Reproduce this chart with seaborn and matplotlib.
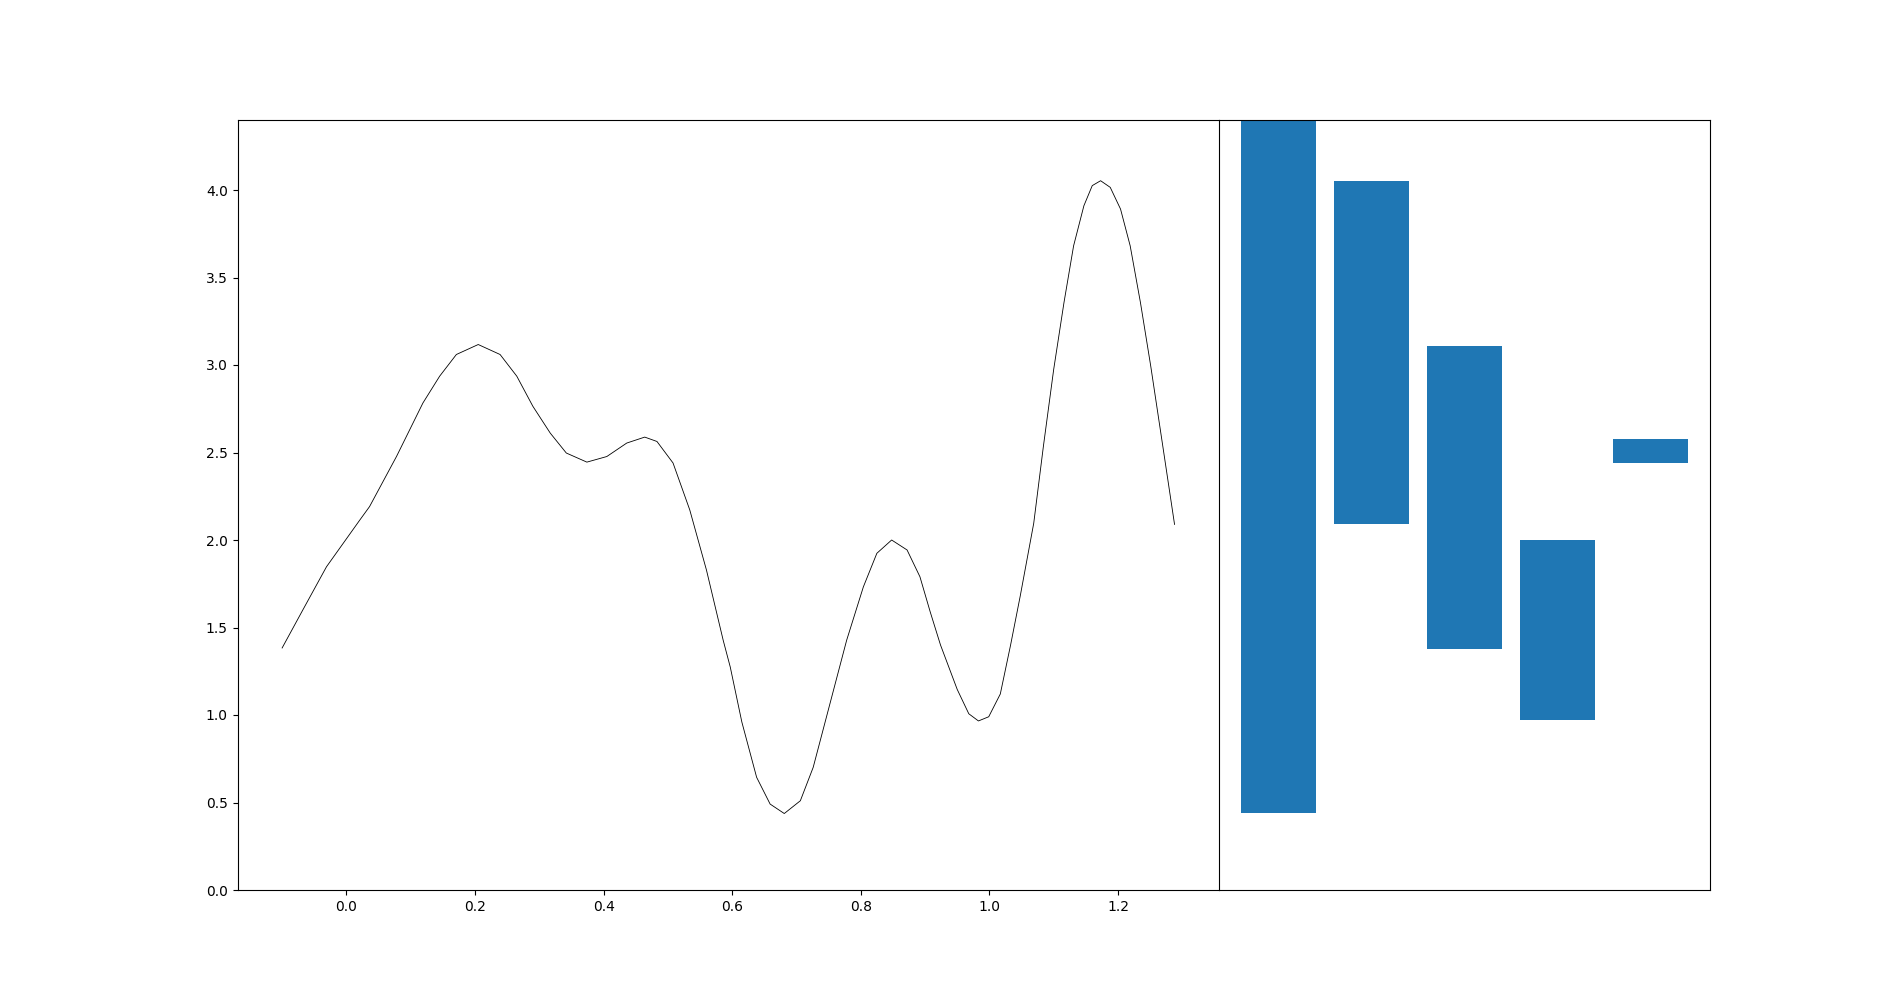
import numpy as np
import pandas as pd
import matplotlib
matplotlib.use("Agg")
import matplotlib.pyplot as plt
import seaborn as sns

# --- curve values ---
curve_x = [-0.100, -0.068, -0.031, 0.021, 0.036, 0.078, 0.119, 0.145, 0.171, 0.205,
           0.239, 0.265, 0.290, 0.317, 0.342, 0.374, 0.405, 0.436, 0.464, 0.483,
           0.508, 0.534, 0.560, 0.586, 0.597, 0.615, 0.638, 0.659, 0.681, 0.706,
           0.726, 0.752, 0.778, 0.804, 0.825, 0.848, 0.872, 0.892, 0.908, 0.924,
           0.950, 0.968, 0.983, 0.999, 1.017, 1.033, 1.048, 1.069, 1.084, 1.100,
           1.116, 1.131, 1.147, 1.160, 1.173, 1.188, 1.204, 1.219, 1.235, 1.251,
           1.269, 1.288]
curve_y = [1.383, 1.599, 1.847, 2.115, 2.191, 2.478, 2.783, 2.936, 3.060, 3.117,
           3.060, 2.936, 2.764, 2.611, 2.497, 2.445, 2.477, 2.554, 2.588, 2.563,
           2.440, 2.172, 1.828, 1.427, 1.274, 0.960, 0.644, 0.491, 0.437, 0.510,
           0.701, 1.064, 1.427, 1.732, 1.924, 2.000, 1.943, 1.790, 1.589, 1.400,
           1.146, 1.007, 0.966, 0.990, 1.120, 1.400, 1.680, 2.096, 2.535, 2.974,
           3.356, 3.681, 3.910, 4.025, 4.053, 4.015, 3.891, 3.681, 3.356, 2.993,
           2.554, 2.089]

# --- bars: birth (bottom) and death (top) of each range ---
births = [0.44, 2.09, 1.38, 0.97, 2.44]
deaths = [4.5, 4.05, 3.11, 2.00, 2.58]   # first one runs off the top

curve_df = pd.DataFrame({"x": curve_x, "y": curve_y})

fig = plt.figure(figsize=(19, 10), dpi=100)
gs = fig.add_gridspec(1, 2, width_ratios=[2, 1], wspace=0)
ax1 = fig.add_subplot(gs[0, 0])
ax2 = fig.add_subplot(gs[0, 1], sharey=ax1)

sns.lineplot(data=curve_df, x="x", y="y", ax=ax1, color="black",
             linewidth=0.6, sort=False, estimator=None)
ax1.set_xlabel("")
ax1.set_ylabel("")
ax1.spines["right"].set_visible(False)

heights = np.array(deaths) - np.array(births)
ax2.bar(range(len(births)), heights, bottom=births, color="#1f77b4", width=0.8)
ax2.set_xticks([])
ax2.tick_params(left=False, labelleft=False)
ax1.set_ylim(0, 4.4)

fig.savefig("out.png", dpi=100)
